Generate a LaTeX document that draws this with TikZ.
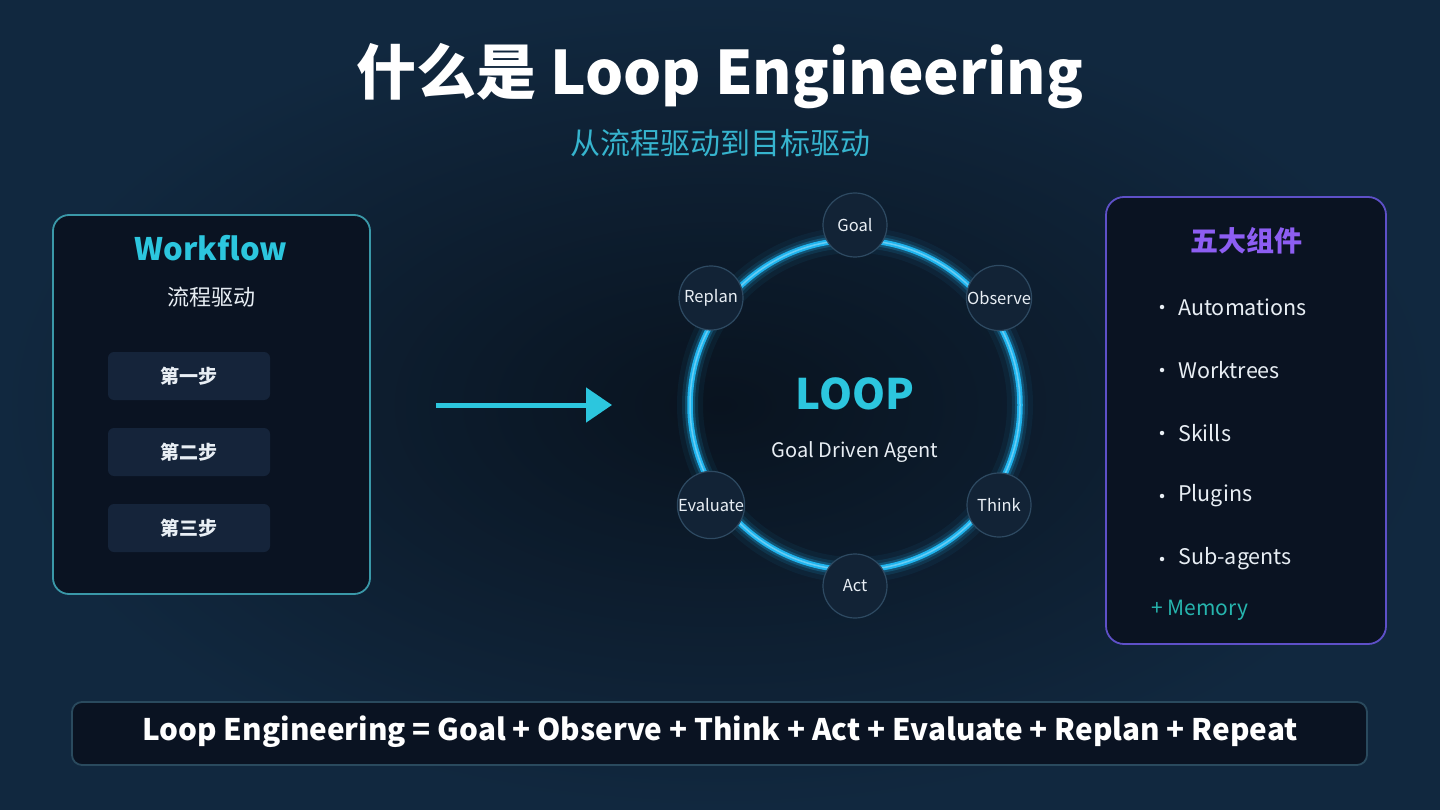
\documentclass[tikz,border=0pt]{standalone}
\usepackage{fontspec}
\setmainfont{Noto Sans CJK SC}
\usetikzlibrary{arrows.meta}
\definecolor{bgin}{HTML}{09131F}
\definecolor{bgout}{HTML}{11283F}
\definecolor{cyanT}{HTML}{2CC6DE}
\definecolor{ringC}{HTML}{1FB4EE}
\definecolor{boxfill}{HTML}{0A1322}
\definecolor{leftborder}{HTML}{3A98A8}
\definecolor{stepfill}{HTML}{15243A}
\definecolor{nodefill}{HTML}{122336}
\definecolor{nodeborder}{HTML}{2E4A62}
\definecolor{purpleB}{HTML}{5E50C8}
\definecolor{purpleT}{HTML}{8D5EF2}
\definecolor{memC}{HTML}{26B5AE}
\definecolor{subC}{HTML}{36B4CE}
\definecolor{txtW}{HTML}{E8EEF4}
\definecolor{barB}{HTML}{2A4A5E}
\tikzset{
  stepbox/.style={fill=stepfill, rounded corners=6pt, minimum width=162pt, minimum height=48pt, text=txtW, font=\fontsize{19}{19}\selectfont\bfseries, inner sep=0pt},
  loopnode/.style={circle, fill=nodefill, draw=nodeborder, line width=1.2pt, minimum size=64pt, inner sep=0pt, text=txtW, font=\fontsize{16.5}{16.5}\selectfont},
  item/.style={anchor=west, text=txtW, font=\fontsize{21.5}{21.5}\selectfont, inner sep=0pt},
  bul/.style={circle, fill=txtW, minimum size=4.5pt, inner sep=0pt},
}
\begin{document}
\begin{tikzpicture}[x=1pt,y=-1pt]
\useasboundingbox (0,0) rectangle (1440,810);
\shade[inner color=bgin, outer color=bgout] (0,0) rectangle (1440,810);
% title
\node[text=white, font=\fontsize{60}{60}\selectfont\bfseries] (title) at (720,76) {什么是 Loop Engineering};
\node[text=subC, font=\fontsize{30}{30}\selectfont] (sub) at (720,143) {从流程驱动到目标驱动};
% left box
\draw[draw=leftborder, fill=boxfill, line width=1.8pt, rounded corners=16pt] (53,215) rectangle (370,594);
\node[text=cyanT, font=\fontsize{31}{31}\selectfont\bfseries] (wf) at (211,248) {Workflow};
\node[text=txtW, font=\fontsize{22}{22}\selectfont] (wfsub) at (211,297) {流程驱动};
\node[stepbox] (s1) at (189,376) {第一步};
\node[stepbox] (s2) at (189,452) {第二步};
\node[stepbox] (s3) at (189,528) {第三步};
% arrow
\coordinate (arrA) at (436,405);
\coordinate (arrB) at (612,405);
\draw[cyanT, line width=5pt, -{Triangle[length=26pt,width=34pt]}] (arrA) -- (arrB);
% ring
\coordinate (c) at (855,405);
\draw[ringC, opacity=0.06, line width=26pt] (c) circle (165);
\draw[ringC, opacity=0.12, line width=16pt] (c) circle (165);
\draw[ringC, opacity=0.25, line width=10pt] (c) circle (165);
\draw[ringC, line width=5.5pt] (c) circle (165);
\draw[cyan!40!white, opacity=0.6, line width=1.5pt] (c) circle (165);
\node[text=cyanT, font=\fontsize{42}{42}\selectfont\bfseries] (loop) at (855,394) {LOOP};
\node[text=txtW, font=\fontsize{20}{20}\selectfont] (gda) at (855,452) {Goal Driven Agent};
\node[loopnode] (goal) at (855,225) {Goal};
\node[loopnode] (obs) at (999,298) {Observe};
\node[loopnode] (think) at (999,505) {Think};
\node[loopnode] (act) at (855,586) {Act};
\node[loopnode] (eval) at (711,505) {Evaluate};
\node[loopnode] (replan) at (711,298) {Replan};
% right box
\draw[draw=purpleB, fill=boxfill, line width=1.8pt, rounded corners=18pt] (1106,197) rectangle (1386,644);
\node[text=purpleT, font=\fontsize{28}{28}\selectfont\bfseries] (five) at (1246,241) {五大组件};
\foreach \t/\y/\n in {Automations/307/a,Worktrees/370/b,Skills/433/c,Plugins/496/d,Sub-agents/559/e}{
  \node[bul] (b\n) at (1162,\y) {};
  \node[item] (i\n) at (1178,\y) {\t};
}
\node[anchor=west, text=memC, font=\fontsize{21}{21}\selectfont, inner sep=0pt] (mem) at (1151,610) {+ Memory};
% bottom bar
\draw[draw=barB, fill=boxfill, line width=1.8pt, rounded corners=10pt] (72,702) rectangle (1367,765);
\node[text=white, font=\fontsize{29.7}{29.7}\selectfont\bfseries] (formula) at (720,732) {Loop Engineering = Goal + Observe + Think + Act + Evaluate + Replan + Repeat};
\end{tikzpicture}
\end{document}
